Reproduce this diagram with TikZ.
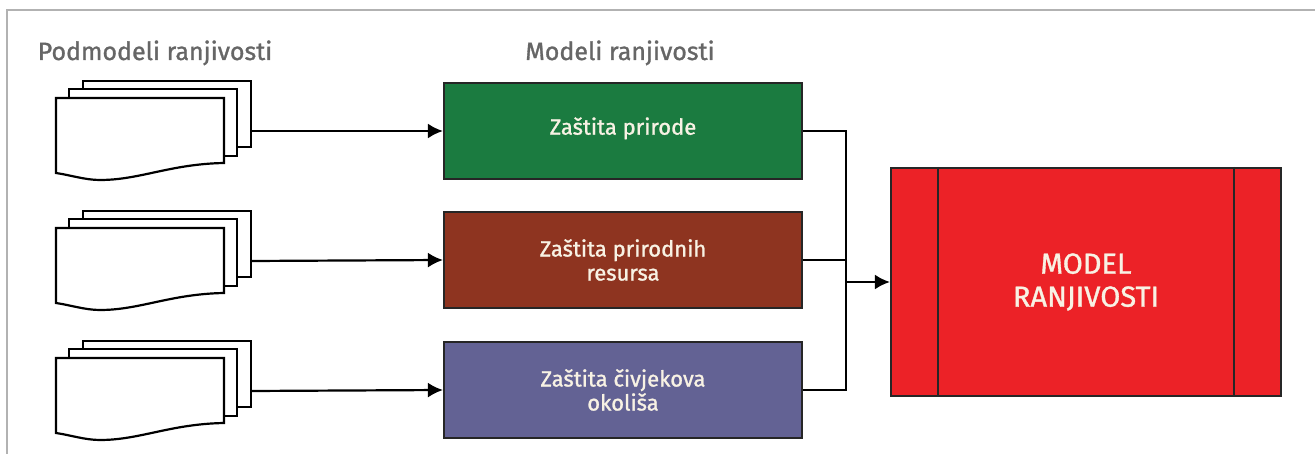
\documentclass[tikz,border=0pt]{standalone}
\usepackage{fontspec}
\setmainfont{Fira Sans}[FakeBold=1.2]
\usetikzlibrary{arrows.meta,calc,positioning}
\definecolor{natgreen}{HTML}{1B7B40}
\definecolor{resbrown}{HTML}{8E3420}
\definecolor{envblue}{HTML}{636294}
\definecolor{modred}{HTML}{EC2227}
\definecolor{cream}{HTML}{F8F2E4}
\tikzset{
  >={Latex[length=15pt,width=15pt]},
}
\tikzstyle{sheet}=[line width=2.2pt,fill=white]
\tikzstyle{wire}=[line width=2.2pt]
\tikzstyle{modbox}=[draw=black!85,line width=2.2pt,minimum width=358pt,minimum height=96pt,text=cream,font=\fontsize{22}{24}\selectfont,align=center]
\tikzstyle{title}=[text=black!60,font=\fontsize{25}{28}\selectfont,anchor=base]

\begin{document}
\begin{tikzpicture}[x=1pt,y=-1pt]
  \useasboundingbox (0,0) rectangle (1315,454);
  \draw[gray!60,line width=1.5pt] (7,454) -- (7,10) -- (1315,10);
  \node[title] (ptitle) at (155,60) {Podmodeli ranjivosti};
  \node[title] (mtitle) at (620,60) {Modeli ranjivosti};
  % stacks of sub-models
  \foreach \t [count=\i] in {81,211,341}{
    \begin{scope}[shift={(0,\t)}]
      \draw[sheet] (83,0) rectangle (251,66);
      \draw[sheet] (69,8) rectangle (237,75);
      \draw[sheet] (56,17) -- (224,17) -- (224,82)
        .. controls (170,83) and (140,99) .. (100,99)
        .. controls (85,99) and (70,94) .. (56,92) -- cycle;
      \coordinate (st\i) at (251,50);
    \end{scope}
  }
  % models
  \node[modbox,fill=natgreen] (zp) at (623,131) {Zaštita prirode\rule[-10pt]{0pt}{0pt}};
  \node[modbox,fill=resbrown] (zr) at (623,260) {Zaštita prirodnih\\resursa};
  \node[modbox,fill=envblue] (zo) at (623,390) {Zaštita čivjekova\\okoliša};
  \node[draw=black!85,line width=2.2pt,fill=modred,minimum width=390pt,minimum height=228pt,
    text=cream,font=\fontsize{29}{33}\selectfont,align=center] (model) at (1086,282) {MODEL\\RANJIVOSTI};
  \draw[line width=2.2pt,black!85] ($(model.north west)+(48,0)$) -- ($(model.south west)+(48,0)$);
  \draw[line width=2.2pt,black!85] ($(model.north east)+(-48,0)$) -- ($(model.south east)+(-48,0)$);
  \coordinate (j) at (846,282);
  \draw[wire,->] (st1) -- (zp.west);
  \draw[wire,->] (st2) -- (zr.west);
  \draw[wire,->] (st3) -- (zo.west);
  \draw[wire] (zp.east) -- (zp.east -| j) -- (zo.east -| j) -- (zo.east);
  \draw[wire] (zr.east) -- (zr.east -| j);
  \draw[wire,->] (j) -- (model.west);
\end{tikzpicture}
\end{document}
